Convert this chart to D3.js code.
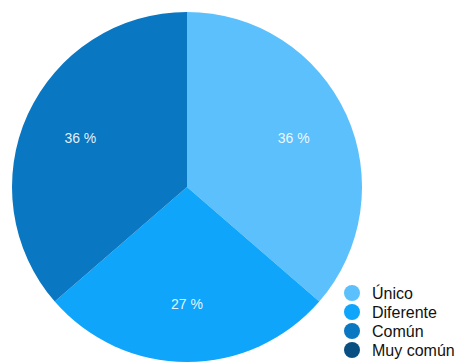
<!DOCTYPE html>
<meta charset="utf-8" />
<style>
  body { margin: 0; background: white; }
  svg { display: block; font-family: "Liberation Sans", Arial, sans-serif; }
</style>
<body>
  <svg id="pie" width="473" height="362"></svg>
</body>
<script src="https://d3js.org/d3.v7.min.js"></script>
<script>
  // categories and values (counts read as 4 / 3 / 4 / 0)
  const categories = ["Único", "Diferente", "Común", "Muy común"];
  const values = [4, 3, 4, 0];
  const colors = ["#5bc0fc", "#0ea5fb", "#0a77c2", "#0a4f81"];

  const svg = d3.select("#pie");
  const cx = 187, cy = 187, radius = 175;

  const color = d3.scaleOrdinal().domain(categories).range(colors);
  const data = categories.map((c, i) => ({ name: c, value: values[i] }));
  const total = d3.sum(values);

  const pie = d3.pie().sort(null).value((d) => d.value);
  const arc = d3.arc().innerRadius(0).outerRadius(radius);
  const labelArc = d3.arc().innerRadius(radius * 0.67).outerRadius(radius * 0.67);

  const g = svg.append("g").attr("transform", `translate(${cx},${cy})`);

  const slices = pie(data).filter((d) => d.data.value > 0);

  g.selectAll("path")
    .data(slices)
    .enter()
    .append("path")
    .attr("d", arc)
    .attr("fill", (d) => color(d.data.name));

  g.selectAll("text.lbl")
    .data(slices)
    .enter()
    .append("text")
    .attr("class", "lbl")
    .attr("transform", (d) => `translate(${labelArc.centroid(d)})`)
    .attr("text-anchor", "middle")
    .attr("dy", "0.35em")
    .attr("fill", "#ffffff")
    .attr("fill-opacity", 0.9)
    .style("font-size", "14px")
    .text((d) => Math.round((d.data.value / total) * 100) + " %");

  // legend
  const legendY = d3.scalePoint().domain(categories).range([293, 350]);
  const legend = svg.append("g");

  legend.selectAll("circle")
    .data(categories)
    .enter()
    .append("circle")
    .attr("cx", 352)
    .attr("cy", (d) => legendY(d))
    .attr("r", 8)
    .attr("fill", (d) => color(d));

  legend.selectAll("text")
    .data(categories)
    .enter()
    .append("text")
    .attr("x", 372)
    .attr("y", (d) => legendY(d))
    .attr("dy", "0.36em")
    .attr("fill", "#111")
    .style("font-size", "16px")
    .text((d) => d);
</script>
